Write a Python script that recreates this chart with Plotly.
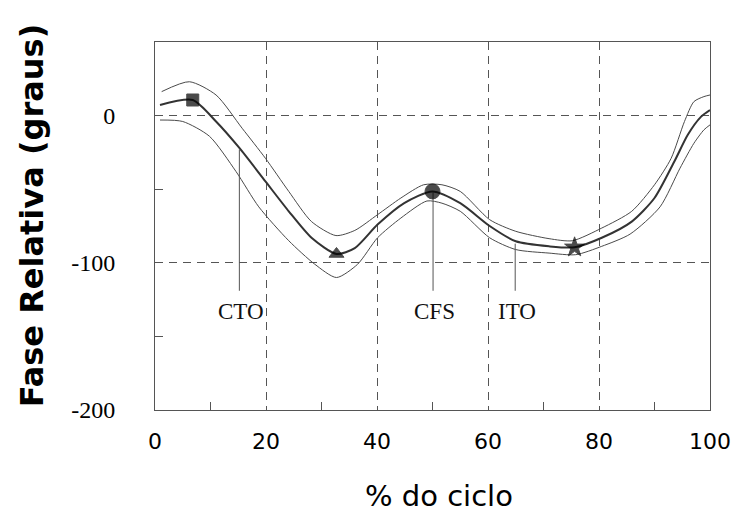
import plotly.graph_objects as go

# ---- data ----
mean_x = [0.9, 6.8, 11, 15.2, 19.9, 24.1, 28.2, 32.7, 36, 40.1, 44.9, 50, 55, 60.3, 65, 71, 75.6, 80.5, 85.9, 90, 93.6, 96, 98.4, 100]
mean_y = [7.2, 10.6, -4, -22, -44.7, -65, -83, -94, -90, -74, -59.4, -51.5, -59.5, -75, -85.4, -88.8, -89.5, -83, -72, -56, -31, -13, -0.7, 3.8]

upper_x = [1.2, 6.2, 11, 15.7, 19.9, 24.1, 28.2, 32.6, 36, 40.1, 44.3, 48.4, 51.7, 55, 60.3, 65, 71, 75.2, 80.5, 85.9, 90, 93, 95.4, 97.1, 98.9, 100]
upper_y = [16.3, 23, 14, -8.6, -29, -51.5, -72, -81.5, -78, -67.3, -56, -47, -47, -51.5, -70.7, -78.6, -83.6, -85, -76.4, -65, -47, -29, -4, 9.5, 12.9, 14]

lower_x = [0.9, 5, 9.8, 14.6, 18.7, 24.1, 28.8, 32.7, 36.5, 40.1, 44.3, 49, 51.7, 55, 60.3, 65, 71, 75.8, 80.5, 85.6, 91, 94.6, 97.1, 98.9, 100]
lower_y = [-3, -4, -14, -38, -62, -85, -101, -110, -101, -83, -69.6, -58, -59.5, -65, -83, -91, -93.4, -94.5, -88.8, -80.5, -62, -35.7, -18.8, -9.7, -6.3]

# event markers on the mean curve
marker_x = [6.8, 32.7, 50.0, 75.6]
marker_y = [10.6, -94, -51.5, -89.5]
marker_symbols = ["square", "triangle-up", "circle", "star"]

# labelled events (vertical lines + text)
event_labels = ["CTO", "CFS", "ITO"]
event_x = [15.2, 50.1, 64.9]
event_top = [-23, -52, -87]
event_bottom = -119
event_label_y = -133

x_ticks = [0, 20, 40, 60, 80, 100]
y_ticks = [-200, -100, 0]

fig = go.Figure()

band_line = dict(color="#4a4a4a", width=1, shape="spline", smoothing=0.7)
fig.add_trace(go.Scatter(x=upper_x, y=upper_y, mode="lines", line=band_line, showlegend=False, hoverinfo="skip"))
fig.add_trace(go.Scatter(x=lower_x, y=lower_y, mode="lines", line=band_line, showlegend=False, hoverinfo="skip"))
fig.add_trace(go.Scatter(x=mean_x, y=mean_y, mode="lines",
                         line=dict(color="#333333", width=2, shape="spline", smoothing=0.7),
                         showlegend=False, hoverinfo="skip"))

# vertical event lines
for ex, et in zip(event_x, event_top):
    fig.add_trace(go.Scatter(x=[ex, ex], y=[et, event_bottom], mode="lines",
                             line=dict(color="#555555", width=1), showlegend=False, hoverinfo="skip"))

sizes = [12, 13, 15, 15]
fig.add_trace(go.Scatter(x=marker_x, y=marker_y, mode="markers",
                         marker=dict(symbol=marker_symbols, size=sizes, color="#000000",
                                     line=dict(color="#000000", width=1)),
                         showlegend=False, hoverinfo="skip"))

for lab, ex in zip(event_labels, event_x):
    fig.add_annotation(x=ex + 0.3, y=event_label_y, text=lab, showarrow=False,
                       font=dict(family="Liberation Serif", size=23, color="#111111"),
                       xanchor="center", yanchor="middle")

# axis titles as annotations for exact placement
fig.add_annotation(xref="paper", yref="paper", x=-0.221, y=0.53, text="<b>Fase Relativa (graus)</b>",
                   textangle=-90, showarrow=False, xanchor="center", yanchor="middle",
                   font=dict(family="DejaVu Sans", size=32, color="#000000"))
fig.add_annotation(xref="paper", yref="paper", x=0.511, y=-0.234, text="% do ciclo",
                   showarrow=False, xanchor="center", yanchor="middle",
                   font=dict(family="DejaVu Sans", size=29, color="#000000"))

grid_common = dict(showgrid=True, gridcolor="#555555", gridwidth=1, griddash="8px,6px",
                   showline=True, linecolor="#555555", linewidth=1, mirror=True,
                   zeroline=False)

fig.update_xaxes(range=[0, 100], tickvals=x_ticks, ticktext=[str(v) for v in x_ticks],
                 ticks="", ticklabelstandoff=12,
                 tickfont=dict(family="DejaVu Sans", size=22, color="#000000"),
                 minor=dict(tickvals=[10, 30, 50, 70, 90], ticks="inside", ticklen=8,
                            tickcolor="#555555", showgrid=False),
                 **grid_common)
fig.update_yaxes(range=[-200, 50], tickvals=y_ticks, ticktext=[str(v) for v in y_ticks],
                 ticks="", ticklabelstandoff=34,
                 tickfont=dict(family="Liberation Serif", size=24, color="#000000"),
                 minor=dict(tickvals=[-150, -50], ticks="inside", ticklen=8,
                            tickcolor="#555555", showgrid=False),
                 **grid_common)

fig.update_layout(width=743, height=515, margin=dict(l=155, r=27, t=42, b=105),
                  paper_bgcolor="white", plot_bgcolor="white")

fig.write_html("out.html")
